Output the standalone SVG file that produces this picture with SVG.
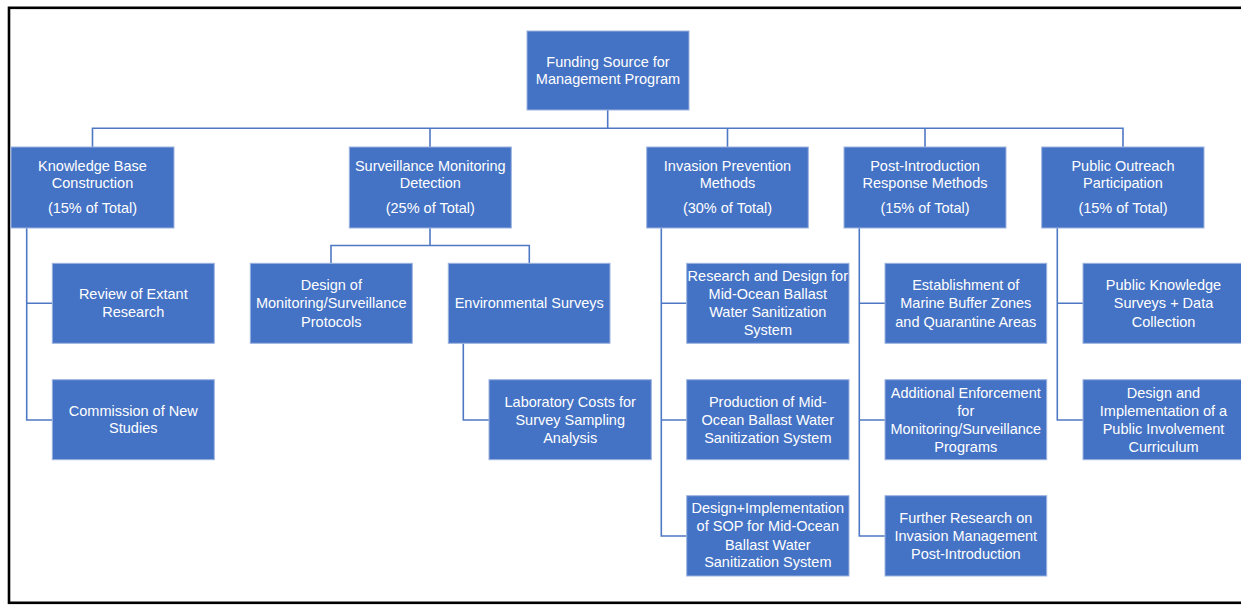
<svg xmlns="http://www.w3.org/2000/svg" width="1241" height="605" viewBox="0 0 1241 605">
<style>
.b{fill:#4472C4;stroke:#9DB3E0;stroke-width:1}
.t{fill:#ffffff;font-family:"Liberation Sans",Arial,sans-serif;font-size:14.5px;text-anchor:middle}
.c{fill:none;stroke:#4F78C4;stroke-width:1.6}
</style>
<rect x="0" y="0" width="1241" height="605" fill="#ffffff"/>
<rect x="9" y="7.8" width="1245" height="595" fill="none" stroke="#000000" stroke-width="2.6"/>
<g id="connectors">
<path class="c" d="M607.7 110V128.3M92.5 147V128.3H1123V147M430 128.3V147M727.5 128.3V147M925 128.3V147"/>
<path class="c" d="M26.7 228V420H52.3M26.7 303.3H52.3"/>
<path class="c" d="M430 228V245.5M331 263.3V245.5H529.3V263.3"/>
<path class="c" d="M463.3 343.3V420H489"/>
<path class="c" d="M661.3 228V536H686.7M661.3 303.3H686.7M661.3 420H686.7"/>
<path class="c" d="M859.3 228V536H885M859.3 303.3H885M859.3 420H885"/>
<path class="c" d="M1057.3 228V420H1083M1057.3 303.3H1083"/>
</g>
<g id="root"><rect class="b" x="527" y="31" width="162" height="79"/>
<text class="t" x="608" y="66.7">Funding Source for</text><text class="t" x="608" y="84.2">Management Program</text></g>
<g id="knowledge"><rect class="b" x="11" y="147" width="163" height="81"/>
<text class="t" x="92.5" y="170.8">Knowledge Base</text><text class="t" x="92.5" y="188.4">Construction</text><text class="t" x="92.5" y="213.4">(15% of Total)</text></g>
<g id="surveillance"><rect class="b" x="349.3" y="147" width="162" height="81"/>
<text class="t" x="430.3" y="170.8">Surveillance Monitoring</text><text class="t" x="430.3" y="188.4">Detection</text><text class="t" x="430.3" y="213.4">(25% of Total)</text></g>
<g id="invasion"><rect class="b" x="646.7" y="147" width="161.6" height="81"/>
<text class="t" x="727.5" y="170.8">Invasion Prevention</text><text class="t" x="727.5" y="188.4">Methods</text><text class="t" x="727.5" y="213.4">(30% of Total)</text></g>
<g id="post"><rect class="b" x="844" y="147" width="162" height="81"/>
<text class="t" x="925" y="170.8">Post-Introduction</text><text class="t" x="925" y="188.4">Response Methods</text><text class="t" x="925" y="213.4">(15% of Total)</text></g>
<g id="public"><rect class="b" x="1041.7" y="147" width="162.3" height="81"/>
<text class="t" x="1123" y="170.8">Public Outreach</text><text class="t" x="1123" y="188.4">Participation</text><text class="t" x="1123" y="213.4">(15% of Total)</text></g>
<g id="review"><rect class="b" x="52.3" y="263.3" width="162" height="80"/>
<text class="t" x="133.3" y="299.2">Review of Extant</text><text class="t" x="133.3" y="316.9">Research</text></g>
<g id="commission"><rect class="b" x="52.3" y="379.7" width="162" height="80"/>
<text class="t" x="133.3" y="415.6">Commission of New</text><text class="t" x="133.3" y="433.3">Studies</text></g>
<g id="design-monitoring"><rect class="b" x="250.3" y="263.3" width="162" height="80"/>
<text class="t" x="331.3" y="290.2">Design of</text><text class="t" x="331.3" y="308.4">Monitoring/Surveillance</text><text class="t" x="331.3" y="326.7">Protocols</text></g>
<g id="environmental"><rect class="b" x="448.3" y="263.3" width="161.7" height="80"/>
<text class="t" x="529.2" y="308.4">Environmental Surveys</text></g>
<g id="laboratory"><rect class="b" x="489" y="379.7" width="162.3" height="80"/>
<text class="t" x="570.2" y="406.7">Laboratory Costs for</text><text class="t" x="570.2" y="424.8">Survey Sampling</text><text class="t" x="570.2" y="443.1">Analysis</text></g>
<g id="research-design"><rect class="b" x="686.7" y="263.3" width="162.3" height="80"/>
<text class="t" x="767.8" y="281.2">Research and Design for</text><text class="t" x="767.8" y="299.3">Mid-Ocean Ballast</text><text class="t" x="767.8" y="317.4">Water Sanitization</text><text class="t" x="767.8" y="335.2">System</text></g>
<g id="production"><rect class="b" x="686.7" y="379.7" width="162.3" height="80"/>
<text class="t" x="767.8" y="406.8">Production of Mid-</text><text class="t" x="767.8" y="424.8">Ocean Ballast Water</text><text class="t" x="767.8" y="443.1">Sanitization System</text></g>
<g id="sop"><rect class="b" x="686.7" y="495.7" width="162.3" height="80.3"/>
<text class="t" x="767.8" y="513.4">Design+Implementation</text><text class="t" x="767.8" y="531.3">of SOP for Mid-Ocean</text><text class="t" x="767.8" y="549.5">Ballast Water</text><text class="t" x="767.8" y="567.3">Sanitization System</text></g>
<g id="buffer"><rect class="b" x="885" y="263.3" width="161.7" height="80"/>
<text class="t" x="965.8" y="290.2">Establishment of</text><text class="t" x="965.8" y="308.3">Marine Buffer Zones</text><text class="t" x="965.8" y="326.5">and Quarantine Areas</text></g>
<g id="enforcement"><rect class="b" x="885" y="379.7" width="161.7" height="80"/>
<text class="t" x="965.8" y="397.8">Additional Enforcement</text><text class="t" x="965.8" y="415.7">for</text><text class="t" x="965.8" y="434">Monitoring/Surveillance</text><text class="t" x="965.8" y="451.8">Programs</text></g>
<g id="further"><rect class="b" x="885" y="495.7" width="161.7" height="80.3"/>
<text class="t" x="965.8" y="522.7">Further Research on</text><text class="t" x="965.8" y="540.7">Invasion Management</text><text class="t" x="965.8" y="558.8">Post-Introduction</text></g>
<g id="public-knowledge"><rect class="b" x="1083" y="263.3" width="162" height="80"/>
<text class="t" x="1163.5" y="290.2">Public Knowledge</text><text class="t" x="1163.5" y="308.3">Surveys + Data</text><text class="t" x="1163.5" y="326.5">Collection</text></g>
<g id="curriculum"><rect class="b" x="1083" y="379.7" width="162" height="80"/>
<text class="t" x="1163.5" y="397.8">Design and</text><text class="t" x="1163.5" y="415.7">Implementation of a</text><text class="t" x="1163.5" y="434">Public Involvement</text><text class="t" x="1163.5" y="451.8">Curriculum</text></g>
</svg>
